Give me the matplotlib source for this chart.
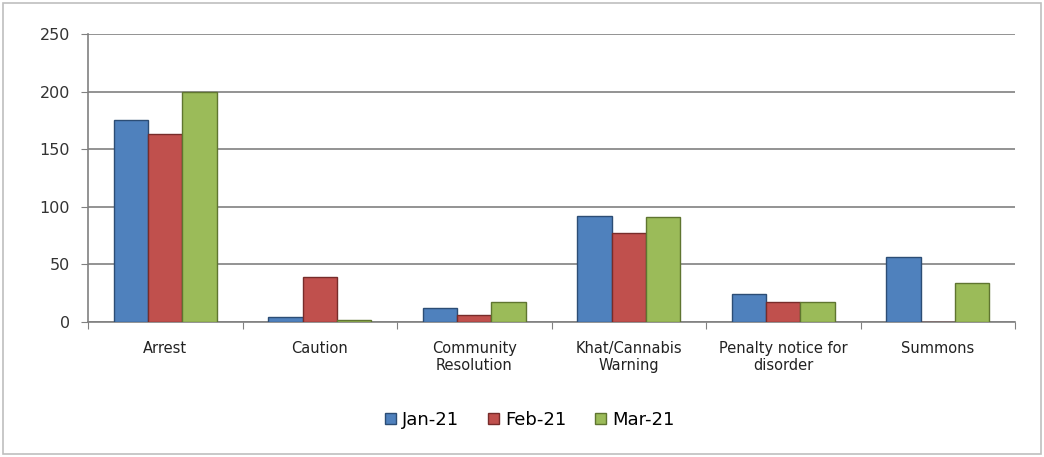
import matplotlib
matplotlib.use("Agg")
import matplotlib.pyplot as plt
import numpy as np
from matplotlib.patches import Rectangle

categories = ["Arrest", "Caution", "Community\nResolution", "Khat/Cannabis\nWarning",
              "Penalty notice for\ndisorder", "Summons"]
series_names = ["Jan-21", "Feb-21", "Mar-21"]
jan = [175, 4, 12, 92, 24, 56]
feb = [163, 39, 6, 77, 17, 0]
mar = [200, 2, 17, 91, 17, 34]
colors = ["#4F81BD", "#C0504D", "#9BBB59"]
edges = ["#2C4D75", "#772C2A", "#5F7530"]
yticks = [0, 50, 100, 150, 200, 250]

W, H = 1044, 457
fig = plt.figure(figsize=(W/100, H/100), dpi=100)
fig.patches.append(Rectangle((3/W, 3/H), 1-6/W, 1-6/H, transform=fig.transFigure,
                             fill=False, edgecolor="#BFBFBF", linewidth=1.2))
ax = fig.add_axes([88/W, 1-322/H, (1015-88)/W, (322-34)/H])

x = np.arange(len(categories))
bw = 0.222
for i, (vals, c, ec) in enumerate(zip([jan, feb, mar], colors, edges)):
    ax.bar(x + (i-1)*bw, vals, width=bw, color=c, edgecolor=ec, linewidth=1.0,
           label=series_names[i], zorder=3)

ax.set_xlim(-0.5, len(categories)-0.5)
ax.set_ylim(0, 250)
ax.set_yticks(yticks)
ax.set_yticklabels([str(t) for t in yticks], fontsize=11.5, color="#333333")
ax.yaxis.grid(True, color="#808080", linewidth=1.2, zorder=0)
ax.set_xticks(np.arange(len(categories)+1)-0.5, minor=False)
ax.set_xticklabels([])
ax.set_xticks(x, minor=True)
ax.set_xticklabels(categories, minor=True, fontsize=10.5, color="#222222", linespacing=1.1)
ax.tick_params(axis="x", which="minor", length=0, pad=14)
ax.tick_params(axis="x", which="major", length=5, color="#808080", direction="out")
ax.tick_params(axis="y", length=5, color="#808080", direction="out", pad=8)
for s in ["top", "right"]:
    ax.spines[s].set_visible(False)
ax.spines["left"].set_color("#808080")
ax.spines["bottom"].set_color("#808080")
ax.spines["left"].set_linewidth(1.2)
ax.spines["bottom"].set_linewidth(1.2)

fig.legend(loc="center", bbox_to_anchor=(530/W, 1-420/H), ncol=3, frameon=False,
           fontsize=13, handlelength=0.6, handleheight=0.6, handletextpad=0.35, columnspacing=1.6)

fig.savefig("out.png", dpi=100)
